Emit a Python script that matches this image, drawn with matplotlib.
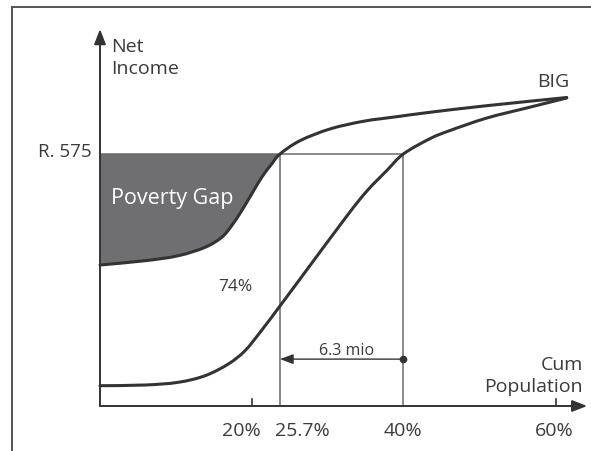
import matplotlib
matplotlib.use("Agg")
import matplotlib.pyplot as plt
import numpy as np
from matplotlib.lines import Line2D
from matplotlib.path import Path
from matplotlib.patches import PathPatch

plt.rcParams['font.family'] = ['Open Sans', 'DejaVu Sans']

# ── Data (x: cumulative population %, y: net income in R) ────────
before_x = [0, 5.92, 10.30, 13.82, 16.01, 17.33, 18.64, 19.96, 21.28, 22.59,
            23.68, 26.32, 30.26, 34.64, 39.04, 43.42, 50.88, 61.41]
before_y = [321.7, 331.5, 342.9, 362.1, 384.9, 411.4, 445.6, 483.7, 521.8, 552.2,
            575.0, 605.4, 632.1, 649.6, 660.1, 670.2, 685.2, 703.9]

big_x = [0, 5.92, 10.30, 13.82, 16.88, 19.08, 21.28, 23.68, 26.97,
         32.46, 35.09, 37.72, 39.91, 43.42, 45.96, 50.88, 56.14, 61.41]
big_y = [46.3, 47.9, 54.1, 69.1, 95.8, 126.2, 173.0, 228.2, 305.0,
         433.0, 490.0, 537.0, 575.0, 610.0, 628.0, 657.0, 680.0, 702.8]

poverty_line = 575
cross_before = 23.68     # where the pre-BIG curve meets R. 575
cross_big = 39.91        # where the BIG curve meets R. 575
share_label = '74%'
gap_label = '6.3 mio'

tick_pos = [20, 60]
tick_labels = ['20%', '25.7%', '40%', '60%']
tick_label_x = [18.55, 26.6, 39.9, 59.8]

DARK = '#333333'
GREY = '#6b6b6b'
TXT = '#3a3a3a'


def smooth_path(xs, ys):
    """Catmull-Rom through the points, drawn as cubic Bezier segments."""
    p = np.column_stack([xs, ys])
    verts, codes = [p[0]], [Path.MOVETO]
    for i in range(len(p) - 1):
        p0 = p[i - 1] if i > 0 else p[i]
        p3 = p[i + 2] if i + 2 < len(p) else p[i + 1]
        c1 = p[i] + (p[i + 1] - p0) / 6
        c2 = p[i + 1] - (p3 - p[i]) / 6
        verts += [c1, c2, p[i + 1]]
        codes += [Path.CURVE4] * 3
    return verts, codes


# ── Figure / axes mapped to the picture ──────────────────────────
fig = plt.figure(figsize=(5.91, 4.52), dpi=100)
ax = fig.add_axes([0, 0, 1, 1])
k = 252 / 575
ax.set_xlim(-100 / 7.6, 491 / 7.6)
ax.set_ylim((407 - 452) / k, 407 / k)
ax.axis('off')

# outer frame (open at right / bottom)
fig.add_artist(Line2D([12 / 591, 12 / 591], [0, 1 - 8 / 452], color='#555555', lw=1.4))
fig.add_artist(Line2D([12 / 591, 1], [1 - 8 / 452, 1 - 8 / 452], color='#555555', lw=1.4))

# poverty gap area
n = before_x.index(cross_before) + 1
v, c = smooth_path(before_x[:n], before_y[:n])
v = [(0, poverty_line), (0, before_y[0])] + v[1:] + [(0, poverty_line)]
c = [Path.MOVETO, Path.LINETO] + c[1:] + [Path.CLOSEPOLY]
ax.add_patch(PathPatch(Path(v, c), facecolor='#6f6f71', lw=0, zorder=1))

# reference lines
ax.plot([0, cross_big], [poverty_line, poverty_line], color=GREY, lw=1.1, zorder=2)
ax.plot([cross_before, cross_before], [0, poverty_line], color=GREY, lw=1.1, zorder=2)
ax.plot([cross_big, cross_big], [0, poverty_line], color=GREY, lw=1.1, zorder=2)

# curves
for xs, ys in [(before_x, before_y), (big_x, big_y)]:
    v, c = smooth_path(xs, ys)
    ax.add_patch(PathPatch(Path(v, c), facecolor='none', edgecolor=DARK, lw=2.2,
                           capstyle='round', zorder=3))

# axes with arrow heads
arrow = dict(arrowstyle='-|>,head_length=0.9,head_width=0.35', color=DARK, lw=1.4,
             shrinkA=0, shrinkB=0)
ax.annotate('', xy=(0, 860), xytext=(0, 0), arrowprops=arrow, zorder=4)
ax.annotate('', xy=(64.1, 0), xytext=(0, 0), arrowprops=arrow, zorder=4)
for t in tick_pos:
    ax.plot([t, t], [0, 16], color=DARK, lw=1.2)

# 6.3 mio arrow
ax.annotate('', xy=(cross_before, 107), xytext=(cross_big, 107),
            arrowprops=dict(arrowstyle='-|>,head_length=0.8,head_width=0.3', color=DARK,
                            lw=1.0, shrinkA=0, shrinkB=0))
ax.plot(cross_big, 107, 'o', color=DARK, ms=4.5)

# texts
ax.text(1.45, 810.7, 'Net', fontsize=14, color=TXT, ha='left', va='baseline')
ax.text(1.45, 759.8, 'Income', fontsize=14, color=TXT, ha='left', va='baseline')
ax.text(-1.05, 570, 'R. 575', fontsize=13.5, color=TXT, ha='right', va='baseline')
ax.text(59.7, 729.5, 'BIG', fontsize=14, color=TXT, ha='center', va='baseline')
ax.text(1.45, 463, 'Poverty Gap', fontsize=15.5, color='white', ha='left', va='baseline')
ax.text(17.76, 265.4, share_label, fontsize=12.5, color=TXT, ha='center', va='baseline')
ax.text(32.46, 118.7, gap_label, fontsize=11.5, color=TXT, ha='center', va='baseline')
ax.text(63.55, 84.4, 'Cum', fontsize=14, color=TXT, ha='right', va='baseline')
ax.text(63.55, 34.9, 'Population', fontsize=14, color=TXT, ha='right', va='baseline')
for lx, lab in zip(tick_label_x, tick_labels):
    ax.text(lx, -66.2, lab, fontsize=14, color=TXT, ha='center', va='baseline')

fig.savefig('out.png', dpi=100)
